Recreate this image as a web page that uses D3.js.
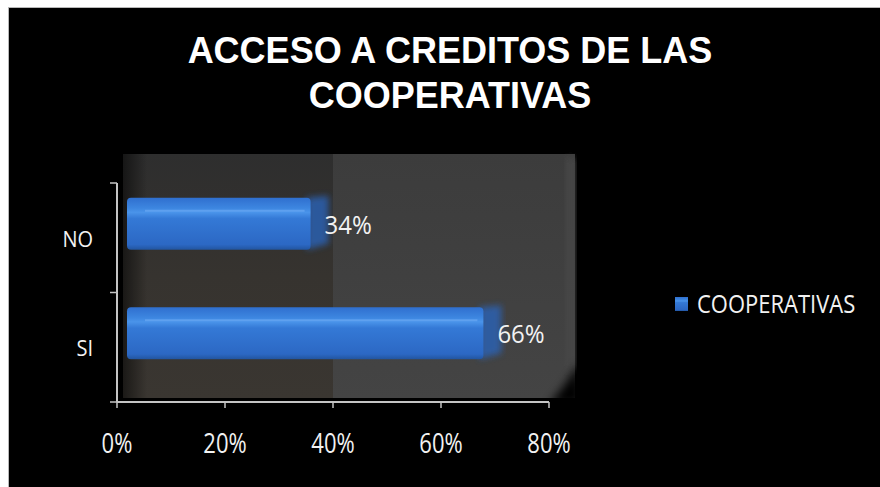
<!DOCTYPE html>
<html>
<head>
<meta charset="utf-8">
<script src="https://cdn.jsdelivr.net/npm/d3@7"></script>
<style>
  html, body { margin: 0; padding: 0; background: #ffffff; }
  svg { display: block; }
</style>
</head>
<body>
<svg id="chart" width="880" height="487"></svg>
<script>
// ---- data ----
const titleLines = ["ACCESO A CREDITOS DE LAS", "COOPERATIVAS"];
const categories = ["NO", "SI"];
const values = [0.34, 0.66];
const valueLabels = ["34%", "66%"];
const xTicks = [0, 0.2, 0.4, 0.6, 0.8];
const seriesName = "COOPERATIVAS";

const svg = d3.select("#chart");
const W = 880, H = 487;

// background
svg.append("rect").attr("x", 0).attr("y", 0).attr("width", W).attr("height", H).attr("fill", "#ffffff");
svg.append("rect").attr("x", 8).attr("y", 7).attr("width", W - 8).attr("height", H - 7).attr("fill", "#b8b8b8");
svg.append("rect").attr("x", 9).attr("y", 8).attr("width", W - 9).attr("height", H - 8).attr("fill", "#000000");

const defs = svg.append("defs");
const barGrad = defs.append("linearGradient").attr("id", "barGrad").attr("x1", 0).attr("y1", 0).attr("x2", 0).attr("y2", 1);
barGrad.append("stop").attr("offset", "0%").attr("stop-color", "#2f6fcf");
barGrad.append("stop").attr("offset", "20%").attr("stop-color", "#3d86e0");
barGrad.append("stop").attr("offset", "28%").attr("stop-color", "#4a94ea");
barGrad.append("stop").attr("offset", "40%").attr("stop-color", "#3479d6");
barGrad.append("stop").attr("offset", "90%").attr("stop-color", "#2c68c4");
barGrad.append("stop").attr("offset", "100%").attr("stop-color", "#22559f");

const wallGrad = defs.append("linearGradient").attr("id", "wallGrad").attr("x1", 0).attr("y1", 0).attr("x2", 0).attr("y2", 1);
wallGrad.append("stop").attr("offset", "0%").attr("stop-color", "#3c3c3c");
wallGrad.append("stop").attr("offset", "100%").attr("stop-color", "#444444");

const leftGrad = defs.append("linearGradient").attr("id", "leftGrad").attr("x1", 0).attr("y1", 0).attr("x2", 0).attr("y2", 1);
leftGrad.append("stop").attr("offset", "0%").attr("stop-color", "#2e2e2e");
leftGrad.append("stop").attr("offset", "50%").attr("stop-color", "#36332f");
leftGrad.append("stop").attr("offset", "100%").attr("stop-color", "#3a3631");

const edgeGrad = defs.append("linearGradient").attr("id", "edgeGrad").attr("x1", 0).attr("y1", 0).attr("x2", 1).attr("y2", 0);
edgeGrad.append("stop").attr("offset", "0%").attr("stop-color", "#000000").attr("stop-opacity", 0.9);
edgeGrad.append("stop").attr("offset", "100%").attr("stop-color", "#000000").attr("stop-opacity", 0);

const blur = defs.append("filter").attr("id", "soft").attr("x", "-20%").attr("y", "-20%").attr("width", "140%").attr("height", "140%");
blur.append("feGaussianBlur").attr("stdDeviation", 3);
const blur2 = defs.append("filter").attr("id", "soft2").attr("x", "-50%").attr("y", "-50%").attr("width", "200%").attr("height", "200%");
blur2.append("feGaussianBlur").attr("stdDeviation", 5);

// ---- scales ----
const x = d3.scaleLinear().domain([0, 0.8]).range([117, 549]);
const y = d3.scaleBand().domain(categories).range([183, 402]).paddingInner(0).paddingOuter(0);

// ---- plot wall ----
const wx0 = x(0) + 6, wy0 = 154, wx1 = 575, wy1 = 398;
svg.append("rect").attr("x", wx0).attr("y", wy0).attr("width", wx1 - wx0).attr("height", wy1 - wy0).attr("fill", "url(#wallGrad)");
svg.append("rect").attr("x", wx0).attr("y", wy0).attr("width", x(0.4) - wx0).attr("height", wy1 - wy0).attr("fill", "url(#leftGrad)");
svg.append("rect").attr("x", 566).attr("y", wy0 + 4).attr("width", 9).attr("height", 212).attr("fill", "#474747").attr("filter", "url(#soft)");
// soften the left edge and the bottom-right corner
svg.append("rect").attr("x", wx0).attr("y", wy0).attr("width", 24).attr("height", wy1 - wy0).attr("fill", "url(#edgeGrad)").attr("opacity", 0.6);
svg.append("path").attr("d", `M${wx1 - 26},${wy1 + 6} Q${wx1 - 6},${wy1 - 16} ${wx1 + 4},${wy1 - 36} L${wx1 + 6},${wy1 + 6} Z`)
  .attr("fill", "#000").attr("filter", "url(#soft2)");

// ---- bars (3D-ish) ----
const depth = 10;
const barH = 52;
const bars = svg.append("g");
categories.forEach((c, i) => {
  const yc = y(c) + y.bandwidth() / 2;
  const top = yc - 40;
  const x0 = x(0) + depth, x1 = x(values[i]) + depth;
  // side face glow
  bars.append("path")
    .attr("d", `M${x1 - 4},${top} L${x1 + 18},${top - 2} L${x1 + 18},${top + barH - 6} L${x1 - 4},${top + barH} Z`)
    .attr("fill", "#2a63b8").attr("opacity", 0.8).attr("filter", "url(#soft)");
  // front face
  bars.append("rect").attr("x", x0).attr("y", top).attr("width", x1 - x0).attr("height", barH)
    .attr("rx", 4).attr("fill", "url(#barGrad)");
  // highlight line
  bars.append("rect").attr("x", x0 + 18).attr("y", top + 12).attr("width", Math.max(0, x1 - x0 - 24)).attr("height", 2)
    .attr("fill", "#6aa8f2").attr("opacity", 0.7);
  // value label
  bars.append("text")
    .attr("transform", `translate(${x1 + 14},${yc - 4}) scale(1,1.06)`)
    .attr("font-family", "'Open Sans', sans-serif").attr("font-size", 24)
    .attr("fill", "#f2f2f2")
    .text(valueLabels[i]);
});

// ---- axes ----
const axisColor = "#c4c4c4";
const axes = svg.append("g");
axes.append("line").attr("x1", x(0)).attr("x2", x(0)).attr("y1", 183).attr("y2", 402)
  .attr("stroke", axisColor).attr("stroke-width", 2);
axes.append("line").attr("x1", x(0)).attr("x2", x(0.8)).attr("y1", 402).attr("y2", 402)
  .attr("stroke", axisColor).attr("stroke-width", 2);
// y ticks (band boundaries)
[183, y("SI"), 402].forEach(v => {
  axes.append("line").attr("x1", x(0) - 7).attr("x2", x(0)).attr("y1", v).attr("y2", v)
    .attr("stroke", axisColor).attr("stroke-width", 1.5);
});
xTicks.forEach(t => {
  axes.append("line").attr("x1", x(t)).attr("x2", x(t)).attr("y1", 402).attr("y2", 408)
    .attr("stroke", axisColor).attr("stroke-width", 1.5);
  axes.append("text").attr("transform", `translate(${x(t)},453) scale(1,1.25)`).attr("text-anchor", "middle")
    .attr("font-family", "'Open Sans', sans-serif").attr("font-size", 22).attr("fill", "#f2f2f2")
    .text(d3.format(".0%")(t));
});
categories.forEach(c => {
  axes.append("text").attr("transform", `translate(93,${y(c) + y.bandwidth() / 2 + 9}) scale(1,1.08)`).attr("text-anchor", "end")
    .attr("font-family", "'Open Sans', sans-serif").attr("font-size", 20).attr("fill", "#f2f2f2")
    .text(c);
});

// ---- title ----
svg.append("text").attr("x", 450).attr("y", 63).attr("text-anchor", "middle")
  .attr("font-family", "'Liberation Sans', Arial, sans-serif").attr("font-weight", "bold")
  .attr("font-size", 36).attr("fill", "#ffffff")
  .selectAll("tspan").data(titleLines).join("tspan")
  .attr("x", 450).attr("dy", (d, i) => i === 0 ? 0 : 45).text(d => d);

// ---- legend ----
svg.append("rect").attr("x", 675).attr("y", 297).attr("width", 13).attr("height", 14).attr("fill", "url(#barGrad)");
svg.append("text").attr("transform", "translate(697,313) scale(1,1.15)")
  .attr("font-family", "'Open Sans', sans-serif").attr("font-size", 22).attr("fill", "#f2f2f2")
  .text(seriesName);
</script>
</body>
</html>
